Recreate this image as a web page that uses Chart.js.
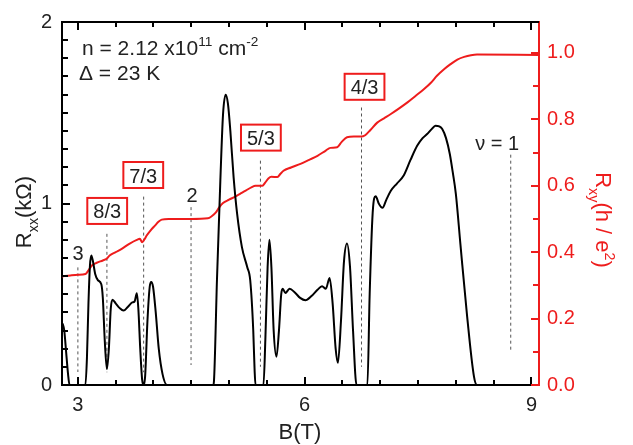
<!DOCTYPE html>
<html>
<head>
<meta charset="utf-8">
<script src="https://cdn.jsdelivr.net/npm/chart.js@4/dist/chart.umd.min.js"></script>
<style>
    html, body { margin: 0; padding: 0; background: #fff; }
    canvas { display: block; }
</style>
</head>
<body>
<canvas id="chart" width="633" height="445"></canvas>
<script>
// 축 눈금 라벨
const xTickLabels = [3, 6, 9];
const rxxTickLabels = [0, 1, 2];
const rxyTickLabels = [0, 0.2, 0.4, 0.6, 0.8, 1.0];

// 보조 눈금 위치
const xMinorTicks = [3, 3.5, 4, 4.5, 5, 5.5, 6, 6.5, 7, 7.5, 8, 8.5, 9];
const rxxMinorTicks = [0, 0.1, 0.2, 0.3, 0.4, 0.5, 0.6, 0.7, 0.8, 0.9, 1, 1.1, 1.2, 1.3, 1.4, 1.5, 1.6, 1.7, 1.8, 1.9, 2];
const rxyMinorTicks = [0, 0.1, 0.2, 0.3, 0.4, 0.5, 0.6, 0.7, 0.8, 0.9, 1.0];

// R_xx (kΩ) 곡선
const rxxB = [2.79, 2.80, 2.82, 2.845, 2.87, 2.89, 3.10, 3.12, 3.14, 3.16, 3.178, 3.20, 3.23, 3.265, 3.31,
    3.33, 3.355, 3.384, 3.41, 3.435, 3.458, 3.50, 3.55, 3.604, 3.66, 3.72, 3.75, 3.78, 3.80, 3.825,
    3.85, 3.87, 3.89, 3.92, 3.95, 3.97, 3.995, 4.03, 4.07, 4.12, 4.18, 4.79, 4.80, 4.84, 4.885,
    4.92, 4.955, 4.985, 5.017, 5.06, 5.106, 5.17, 5.24, 5.28, 5.32, 5.338, 5.35, 5.455, 5.48, 5.51,
    5.534, 5.56, 5.59, 5.627, 5.66, 5.69, 5.71, 5.745, 5.80, 5.87, 5.94, 6.01, 6.09, 6.17, 6.23,
    6.28, 6.33, 6.37, 6.41, 6.44, 6.48, 6.52, 6.56, 6.60, 6.64, 6.686, 6.83, 6.86, 6.90, 6.94,
    6.98, 7.03, 7.08, 7.14, 7.22, 7.31, 7.40, 7.49, 7.56, 7.62, 7.68, 7.73, 7.78, 7.82, 7.87,
    7.92, 7.96, 8.00, 8.06, 8.15, 8.24, 8.28, 9.10];
const rxxVal = [0.34, 0.335, 0.30, 0.18, 0.06, 0.0, 0.0, 0.15, 0.45, 0.66, 0.714, 0.68, 0.61, 0.577, 0.555,
    0.48, 0.25, 0.088, 0.20, 0.42, 0.47, 0.45, 0.425, 0.41, 0.43, 0.455, 0.46, 0.505, 0.42, 0.20,
    0.03, 0.0, 0.05, 0.35, 0.54, 0.568, 0.54, 0.40, 0.20, 0.06, 0.0, 0.0, 0.02, 0.58, 1.13,
    1.49, 1.599, 1.55, 1.40, 1.145, 0.945, 0.76, 0.65, 0.577, 0.30, 0.08, 0.0, 0.0, 0.25, 0.65,
    0.80, 0.65, 0.30, 0.156, 0.30, 0.50, 0.53, 0.507, 0.53, 0.51, 0.48, 0.467, 0.49, 0.525, 0.544,
    0.53, 0.59, 0.45, 0.20, 0.122, 0.35, 0.68, 0.78, 0.65, 0.30, 0.0, 0.0, 0.50, 0.95, 1.04,
    1.00, 0.976, 1.02, 1.07, 1.11, 1.154, 1.24, 1.319, 1.36, 1.383, 1.41, 1.429, 1.425, 1.41, 1.36,
    1.273, 1.17, 1.053, 0.778, 0.375, 0.046, 0.0, 0.0];

// R_xy (h/e^2) 곡선
const rxyB = [2.79, 2.90, 3.00, 3.10, 3.14, 3.185, 3.25, 3.33, 3.38, 3.42, 3.50, 3.58, 3.68, 3.78, 3.82,
    3.85, 3.88, 3.91, 3.96, 4.02, 4.07, 4.11, 4.20, 4.50, 4.72, 4.77, 4.82, 4.87, 4.92, 5.00,
    5.08, 5.15, 5.22, 5.30, 5.35, 5.44, 5.48, 5.52, 5.56, 5.64, 5.68, 5.72, 5.82, 5.945, 6.06,
    6.17, 6.28, 6.34, 6.43, 6.49, 6.56, 6.65, 6.75, 6.80, 6.87, 6.96, 7.05, 7.14, 7.25, 7.36,
    7.47, 7.58, 7.67, 7.75, 7.84, 7.93, 8.02, 8.11, 8.20, 8.28, 9.10];
const rxyVal = [0.327, 0.33, 0.332, 0.334, 0.345, 0.36, 0.368, 0.375, 0.38, 0.39, 0.40, 0.41, 0.425, 0.437, 0.44,
    0.43, 0.438, 0.45, 0.465, 0.48, 0.492, 0.498, 0.50, 0.50, 0.502, 0.508, 0.518, 0.535, 0.548, 0.558,
    0.567, 0.576, 0.585, 0.596, 0.60, 0.60, 0.61, 0.622, 0.627, 0.626, 0.636, 0.645, 0.655, 0.666, 0.678,
    0.69, 0.706, 0.714, 0.716, 0.732, 0.746, 0.748, 0.748, 0.752, 0.768, 0.79, 0.803, 0.816, 0.833, 0.851,
    0.871, 0.891, 0.91, 0.931, 0.95, 0.966, 0.98, 0.988, 0.993, 0.995, 0.994];

// 충전율(ν) 표시선 (B 위치, R_xx 축 기준 위/아래 끝)
const nuB = [3.0, 3.384, 3.87, 4.497, 5.415, 6.752, 8.726];
const nuTop = [0.648, 0.833, 1.038, 0.98, 1.236, 1.529, 1.269];
const nuBottom = [0.071, 0.07, 0.07, 0.11, 0.10, 0.10, 0.187];

// 라벨 배치 (데이터 좌표)
const notes = [
    { text: '3', b: 3.004, r: 0.731, box: false },
    { text: '8/3', b: 3.388, r: 0.959, box: true },
    { text: '7/3', b: 3.865, r: 1.157, box: true },
    { text: '2', b: 4.51, r: 1.051, box: false },
    { text: '5/3', b: 5.421, r: 1.363, box: true },
    { text: '4/3', b: 6.792, r: 1.643, box: true },
    { text: 'ν = 1', b: 8.547, r: 1.338, box: false }
];

const RED = '#ee1c1c';
const FONT = '"Liberation Sans", Arial, sans-serif';

function toPoints(xs, ys) {
    return xs.map((x, i) => ({ x: x, y: ys[i] }));
}

// 위/아래 첨자가 섞인 텍스트 그리기
function drawRich(ctx, parts, x, y, size, color) {
    const widths = parts.map(([t, m]) => {
        ctx.font = (m ? size * 0.65 : size) + 'px ' + FONT;
        return ctx.measureText(t).width;
    });
    let cx = x - widths.reduce((a, b) => a + b, 0) / 2;
    ctx.fillStyle = color;
    ctx.textAlign = 'left';
    ctx.textBaseline = 'alphabetic';
    parts.forEach(([t, m], i) => {
        ctx.font = (m ? size * 0.65 : size) + 'px ' + FONT;
        const dy = m === 1 ? size * 0.3 : (m === 2 ? -size * 0.42 : 0);
        ctx.fillText(t, cx, y + dy);
        cx += widths[i];
    });
}

function isMajor(v, step) {
    return Math.abs(v / step - Math.round(v / step)) < 1e-6;
}

// 안쪽 눈금, 축 제목, 주석
const decor = {
    id: 'decor',
    afterDraw(chart) {
        const { ctx, chartArea: a, scales } = chart;
        ctx.save();

        // 위쪽 테두리
        ctx.fillStyle = '#000';
        ctx.fillRect(a.left - 1, a.top - 1, a.right - a.left + 1, 2);

        // x 눈금 (위, 아래)
        xMinorTicks.forEach(v => {
            const px = Math.round(scales.x.getPixelForValue(v));
            const len = isMajor(v, 3) ? 8 : 5;
            ctx.fillRect(px - 1, a.bottom - len, 2, len);
            ctx.fillRect(px - 1, a.top, 2, len);
        });
        // 왼쪽 눈금
        rxxMinorTicks.forEach(v => {
            const py = Math.round(scales.y.getPixelForValue(v));
            const len = isMajor(v, 1) ? 8 : 6;
            ctx.fillRect(a.left, py - 1, len, 2);
        });
        // 오른쪽 눈금
        ctx.fillStyle = RED;
        rxyMinorTicks.forEach(v => {
            const py = Math.round(scales.y2.getPixelForValue(v));
            const len = isMajor(v, 0.2) ? 8 : 6;
            ctx.fillRect(a.right - len, py - 1, len, 2);
        });

        // 축 제목
        drawRich(ctx, [['B(T)', 0]], (a.left + a.right) / 2 - 0.5, 439, 22, '#222');

        ctx.save();
        ctx.translate(31, 212);
        ctx.rotate(-Math.PI / 2);
        drawRich(ctx, [['R', 0], ['xx', 1], ['(kΩ)', 0]], 0, 0, 22, '#222');
        ctx.restore();

        ctx.save();
        ctx.translate(596, 220);
        ctx.rotate(Math.PI / 2);
        drawRich(ctx, [['R', 0], ['xy', 1], ['(h / e', 0], ['2', 2], [')', 0]], 0, 0, 22, RED);
        ctx.restore();

        // 시료 정보
        const info = [['n = 2.12 x10', 0], ['11', 2], [' cm', 0], ['-2', 2]];
        const infoW = info.reduce((s, [t, m]) => {
            ctx.font = (m ? 21 * 0.65 : 21) + 'px ' + FONT;
            return s + ctx.measureText(t).width;
        }, 0);
        drawRich(ctx, info, a.left + 20 + infoW / 2, a.top + 33, 21, '#222');
        ctx.font = '21px ' + FONT;
        const dW = ctx.measureText('Δ = 23 K').width;
        drawRich(ctx, [['Δ = 23 K', 0]], a.left + 17 + dW / 2, a.top + 58, 21, '#222');

        // 충전율 라벨
        notes.forEach(n => {
            const px = scales.x.getPixelForValue(n.b);
            const py = scales.y.getPixelForValue(n.r);
            ctx.font = '20px ' + FONT;
            const w = ctx.measureText(n.text).width;
            if (n.box) {
                ctx.strokeStyle = RED;
                ctx.lineWidth = 2;
                ctx.fillStyle = '#fff';
                ctx.fillRect(px - w / 2 - 6, py - 13, w + 12, 26);
                ctx.strokeRect(px - w / 2 - 6, py - 13, w + 12, 26);
            }
            drawRich(ctx, [[n.text, 0]], px, py + 7.5, 20, '#222');
        });

        ctx.restore();
    }
};

function init() {
    const ctx = document.getElementById('chart').getContext('2d');

    // 점선 표시선 데이터셋
    const guides = nuB.map((b, i) => ({
        data: [{ x: b, y: nuTop[i] }, { x: b, y: nuBottom[i] }],
        yAxisID: 'y',
        borderColor: '#555',
        borderWidth: 1,
        borderDash: [3, 3],
        pointRadius: 0,
        showLine: true
    }));

    new Chart(ctx, {
        type: 'scatter',
        data: {
            datasets: [
                {
                    label: 'Rxx',
                    data: toPoints(rxxB, rxxVal),
                    yAxisID: 'y',
                    borderColor: '#000',
                    borderWidth: 2,
                    pointRadius: 0,
                    showLine: true,
                    cubicInterpolationMode: 'monotone'
                },
                {
                    label: 'Rxy',
                    data: toPoints(rxyB, rxyVal),
                    yAxisID: 'y2',
                    borderColor: RED,
                    borderWidth: 2,
                    pointRadius: 0,
                    showLine: true,
                    cubicInterpolationMode: 'monotone'
                },
                ...guides
            ]
        },
        options: {
            responsive: false,
            animation: false,
            layout: { padding: { top: 21, left: 0, right: 0, bottom: 0 } },
            plugins: { legend: { display: false }, tooltip: { enabled: false } },
            scales: {
                x: {
                    type: 'linear',
                    min: 2.79,
                    max: 9.1,
                    grid: { display: false, drawTicks: false },
                    border: { color: '#000', width: 2 },
                    ticks: { color: '#222', font: { size: 20, family: FONT }, padding: 8 },
                    afterBuildTicks: s => { s.ticks = xTickLabels.map(v => ({ value: v })); },
                    afterFit: s => { s.height = 60; }
                },
                y: {
                    position: 'left',
                    min: 0,
                    max: 2,
                    grid: { display: false, drawTicks: false },
                    border: { color: '#000', width: 2 },
                    ticks: { color: '#222', font: { size: 20, family: FONT }, padding: 10 },
                    afterBuildTicks: s => { s.ticks = rxxTickLabels.map(v => ({ value: v })); },
                    afterFit: s => { s.width = 62; }
                },
                y2: {
                    position: 'right',
                    min: 0,
                    max: 1.093,
                    grid: { display: false, drawTicks: false },
                    border: { color: RED, width: 2 },
                    ticks: {
                        color: RED,
                        font: { size: 20, family: FONT },
                        padding: 8,
                        callback: v => v.toFixed(1)
                    },
                    afterBuildTicks: s => { s.ticks = rxyTickLabels.map(v => ({ value: v })); },
                    afterFit: s => { s.width = 94; }
                }
            }
        },
        plugins: [decor]
    });
}

document.addEventListener('DOMContentLoaded', init);
</script>
</body>
</html>
